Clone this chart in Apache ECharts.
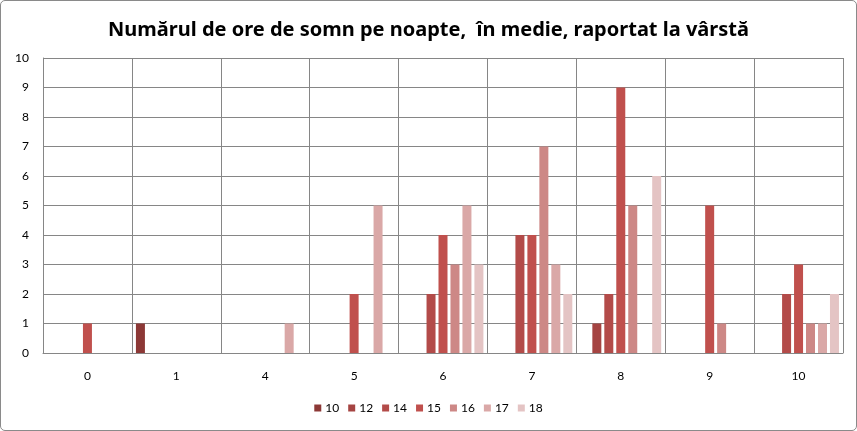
<!DOCTYPE html>
<html>
<head>
<meta charset="utf-8">
<script src="https://cdn.jsdelivr.net/npm/echarts@6/dist/echarts.min.js"></script>
<style>
html,body{margin:0;padding:0;background:#fff;}
#c{position:absolute;left:0;top:0;width:855px;height:429px;border:1px solid #8a8a8a;border-radius:5px;}
</style>
</head>
<body>
<div id="c"></div>
<script>
const categories = ['0','1','4','5','6','7','8','9','10'];
const seriesNames = ['10','12','14','15','16','17','18'];
const s10 = [0,1,0,0,0,0,0,0,0];
const s12 = [0,0,0,0,0,0,1,0,0];
const s14 = [0,0,0,0,2,4,2,0,2];
const s15 = [1,0,0,2,4,4,9,5,3];
const s16 = [0,0,0,0,3,7,5,1,1];
const s17 = [0,0,1,5,5,3,0,0,1];
const s18 = [0,0,0,0,3,2,6,0,2];
const yTicks = [0,1,2,3,4,5,6,7,8,9,10];
const colors = ['#8C3836','#A54442','#B34B49','#C0504D','#CD8886','#DAA8A7','#E4C4C4'];
const values = [s10,s12,s14,s15,s16,s17,s18];

const chart = echarts.init(document.getElementById('c'), null, {renderer:'canvas'});
const font = 'Lato, sans-serif';
chart.setOption({
  animation:false,
  color: colors,
  title:{
    text:'Numărul de ore de somn pe noapte,  în medie, raportat la vârstă',
    left:'center', top:14,
    textStyle:{fontFamily:'"Noto Sans", sans-serif', fontWeight:'bold', fontSize:20, color:'#000'}
  },
  legend:{
    bottom:11, left:'center',
    itemWidth:7, itemHeight:7, itemGap:9,
    icon:'rect',
    textStyle:{fontFamily:font, fontSize:12, color:'#000', padding:[0,0,0,-1]},
    data: seriesNames
  },
  grid:{left:42, right:13, top:57, bottom:77, containLabel:false},
  xAxis:{
    type:'category', data:categories, boundaryGap:true,
    axisLine:{lineStyle:{color:'#868686'}},
    axisTick:{show:false},
    splitLine:{show:true, interval:0, lineStyle:{color:'#868686', width:1}},
    axisLabel:{fontFamily:font, fontSize:12, color:'#000', margin:17, interval:0}
  },
  yAxis:{
    type:'value', min:yTicks[0], max:yTicks[yTicks.length-1], interval:1,
    axisLine:{show:true, lineStyle:{color:'#868686'}},
    axisTick:{show:false},
    splitLine:{show:true, lineStyle:{color:'#868686', width:1}},
    axisLabel:{fontFamily:font, fontSize:12, color:'#000', margin:14}
  },
  series: seriesNames.map((n,i)=>({
    name:n, type:'bar', data:values[i], barWidth:9, barGap:'33%',
    itemStyle:{color:colors[i]}
  }))
});
</script>
</body>
</html>
